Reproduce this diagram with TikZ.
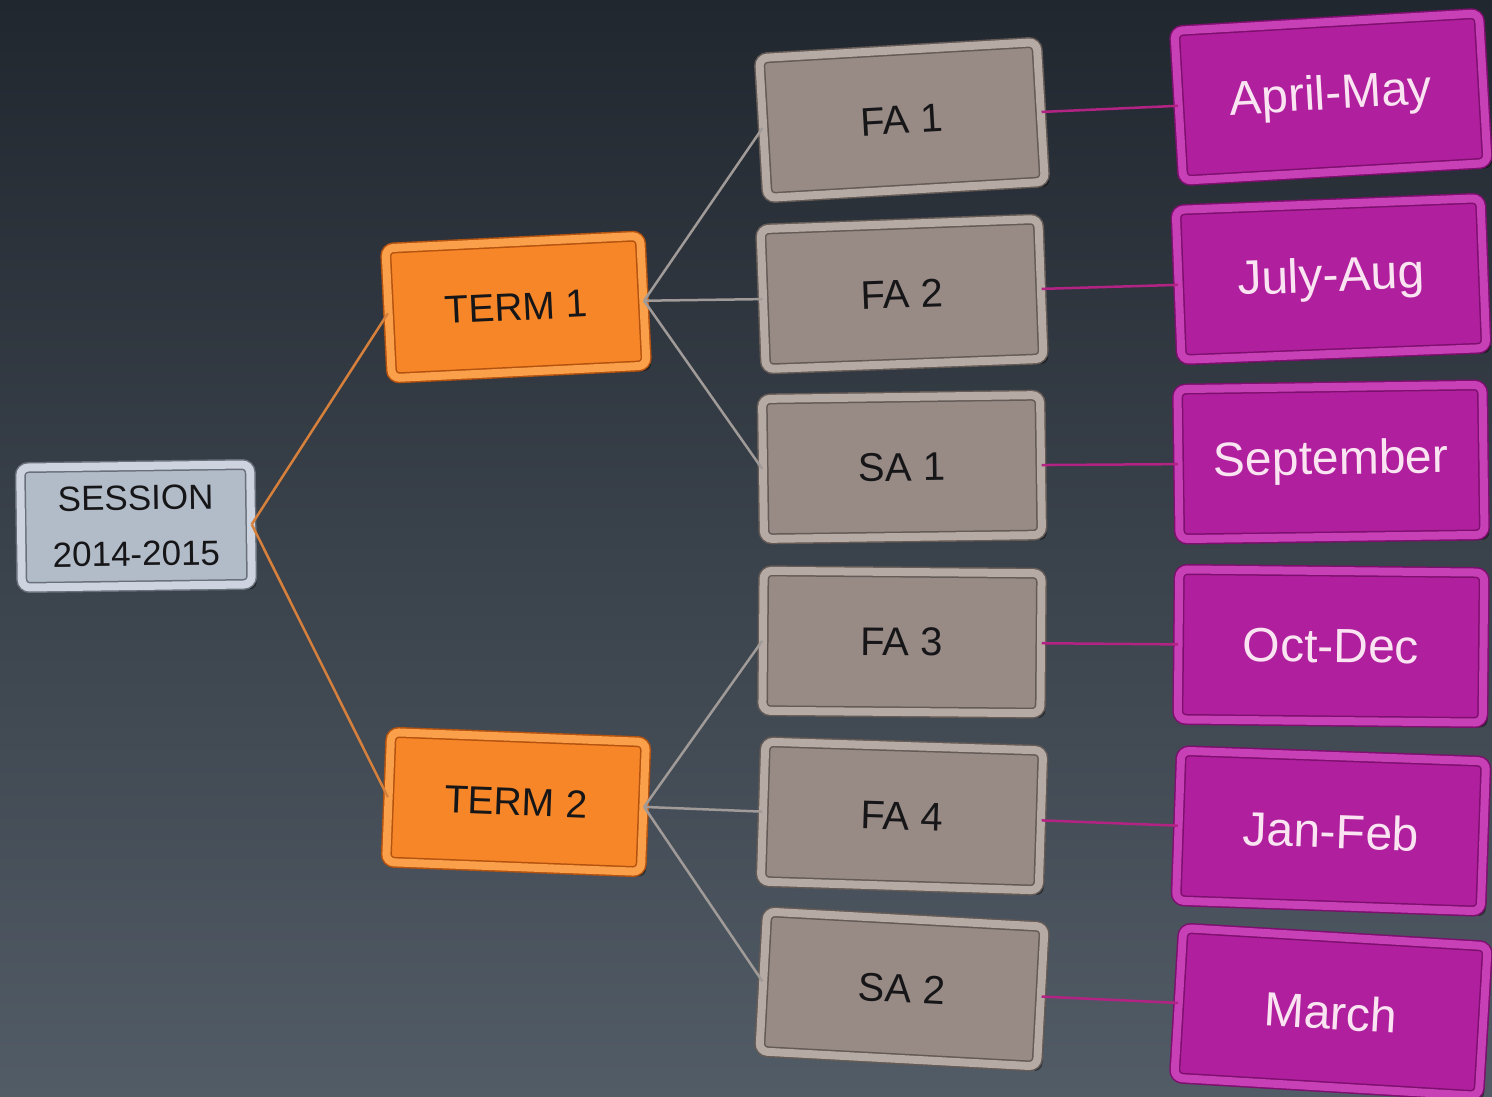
\documentclass[tikz,border=0pt]{standalone}
\usepackage{fontspec}
\setmainfont{Liberation Sans}
\usetikzlibrary{shadows}
\definecolor{bgtop}{RGB}{33,39,47}
\definecolor{bgmid}{RGB}{40,47,56}
\definecolor{bgbot}{RGB}{82,92,102}
\definecolor{sessfill}{RGB}{178,187,200}
\definecolor{sessedge}{RGB}{105,112,124}
\definecolor{sessin}{RGB}{205,212,224}
\definecolor{termfill}{RGB}{246,134,40}
\definecolor{termedge}{RGB}{180,82,16}
\definecolor{termin}{RGB}{250,160,75}
\definecolor{fafill}{RGB}{152,138,133}
\definecolor{faedge}{RGB}{100,90,86}
\definecolor{fain}{RGB}{182,170,164}
\definecolor{monfill}{RGB}{176,32,158}
\definecolor{monedge}{RGB}{125,15,110}
\definecolor{monin}{RGB}{200,64,182}
\definecolor{montext}{RGB}{250,228,242}
\definecolor{darktext}{RGB}{22,22,24}
\definecolor{lineorange}{RGB}{214,128,60}
\definecolor{linegray}{RGB}{160,155,152}
\definecolor{linemag}{RGB}{178,35,132}
\tikzset{
  bevelbox/.style n args={3}{rectangle, rounded corners=8pt, inner sep=0pt,
    fill=#1, draw=#2, double=#3, double distance=8pt, line width=1.5pt,
    drop shadow={shadow xshift=5pt, shadow yshift=-5pt, opacity=0.45, fill=black}},
  sessbox/.style={bevelbox={sessfill}{sessedge}{sessin}, minimum width=230pt, minimum height=120pt,
    text=darktext, align=center, font=\fontsize{35}{56}\selectfont},
  termbox/.style={bevelbox={termfill}{termedge}{termin}, minimum width=255pt, minimum height=130pt,
    text=darktext, font=\fontsize{39}{45}\selectfont},
  fabox/.style={bevelbox={fafill}{faedge}{fain}, minimum width=278pt, minimum height=140pt,
    text=darktext, font=\fontsize{40}{46}\selectfont},
  monbox/.style={bevelbox={monfill}{monedge}{monin}, minimum width=305pt, minimum height=150pt,
    text=montext, font=\fontsize{48}{54}\selectfont},
  orangeline/.style={draw=lineorange, line width=2.5pt},
  grayline/.style={draw=linegray, line width=2.5pt},
  magline/.style={draw=linemag, line width=2.5pt}
}
\begin{document}
\begin{tikzpicture}[x=1pt,y=-1pt]
\useasboundingbox (0,0) rectangle (1492,1097);
\shade[top color=bgtop, middle color=bgmid, bottom color=bgbot] (0,0) rectangle (1492,1097);
% column 1
\node[sessbox, rotate=0.8] (sess) at (136,526) {SESSION\\2014-2015};
% column 2
\node[termbox, rotate=2.8] (t1) at (516,307) {TERM 1};
\node[termbox, rotate=-2.2] (t2) at (516,802) {TERM 2};
% column 3
\node[fabox, rotate=3.3] (fa1) at (902,120) {FA 1};
\node[fabox, rotate=2.1] (fa2) at (902,294) {FA 2};
\node[fabox, rotate=0.8] (sa1) at (902,467) {SA 1};
\node[fabox, rotate=-0.5] (fa3) at (902,642) {FA 3};
\node[fabox, rotate=-1.8] (fa4) at (902,816) {FA 4};
\node[fabox, rotate=-3.1] (sa2) at (902,989) {SA 2};
% column 4
\node[monbox, rotate=3.3] (m1) at (1331,97) {April-May};
\node[monbox, rotate=2.2] (m2) at (1331,279) {July-Aug};
\node[monbox, rotate=0.8] (m3) at (1331,462) {September};
\node[monbox, rotate=-0.6] (m4) at (1331,646) {Oct-Dec};
\node[monbox, rotate=-2.0] (m5) at (1331,831) {Jan-Feb};
\node[monbox, rotate=-3.4] (m6) at (1331,1012) {March};
% connectors
\draw[orangeline] (sess.east) -- (t1.west);
\draw[orangeline] (sess.east) -- (t2.west);
\draw[grayline] (t1.east) -- (fa1.west);
\draw[grayline] (t1.east) -- (fa2.west);
\draw[grayline] (t1.east) -- (sa1.west);
\draw[grayline] (t2.east) -- (fa3.west);
\draw[grayline] (t2.east) -- (fa4.west);
\draw[grayline] (t2.east) -- (sa2.west);
\draw[magline] (fa1.east) -- (m1.west);
\draw[magline] (fa2.east) -- (m2.west);
\draw[magline] (sa1.east) -- (m3.west);
\draw[magline] (fa3.east) -- (m4.west);
\draw[magline] (fa4.east) -- (m5.west);
\draw[magline] (sa2.east) -- (m6.west);
\end{tikzpicture}
\end{document}
